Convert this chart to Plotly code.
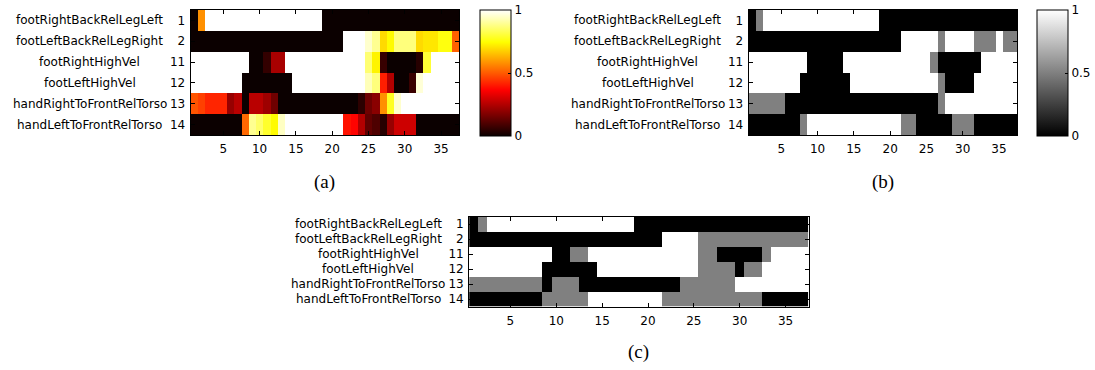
import plotly.graph_objects as go

# Feature rows (label names and their indices) and the 37 time columns
feature_names = [
    "footRightBackRelLegLeft",
    "footLeftBackRelLegRight",
    "footRightHighVel",
    "footLeftHighVel",
    "handRightToFrontRelTorso",
    "handLeftToFrontRelTorso",
]
feature_ids = ["1", "2", "11", "12", "13", "14"]
columns = list(range(1, 38))
x_tick_values = [5, 10, 15, 20, 25, 30, 35]
colorbar_ticks = [0, 0.5, 1]
colorbar_labels = ["0", "0.5", "1"]

# (a) continuous activation values
act_r1 = [0, 0.58, 1, 1, 1, 1, 1, 1, 1, 1, 1, 1, 1, 1, 1, 1, 1, 1, 0, 0,
          0, 0, 0, 0, 0, 0, 0, 0, 0, 0, 0, 0, 0, 0, 0, 0, 0]
act_r2 = [0, 0, 0, 0, 0, 0, 0, 0, 0, 0, 0, 0, 0, 0, 0, 0, 0, 0, 0, 0,
          0, 1, 1, 1, 0.95, 0.89, 0.69, 0.74, 0.87, 0.87, 0.87, 0.69, 0.71, 0.71, 0.76, 0.76, 0.51]
act_r3 = [1, 1, 1, 1, 1, 1, 1, 1, 0, 0, 0.06, 0.235, 0.235, 1, 1, 1, 1, 1, 1, 1,
          1, 1, 1, 1, 0.86, 0.73, 0.066, 0, 0, 0, 0, 0.04, 0.80, 1, 1, 1, 1]
act_r4 = [1, 1, 1, 1, 1, 1, 1, 0, 0, 0, 0, 0, 0, 0, 1, 1, 1, 1, 1, 1,
          1, 1, 1, 1, 0.93, 0.87, 0.41, 0.25, 0, 0, 0.07, 0.96, 1, 1, 1, 1, 1]
act_r5 = [0.49, 0.46, 0.42, 0.42, 0.42, 0.21, 0.26, 0, 0.26, 0.26, 0.22, 0.15, 0, 0, 0, 0, 0, 0, 0, 0,
          0, 0, 0, 0.05, 0.15, 0.19, 0.58, 0.78, 0.95, 1, 1, 1, 1, 1, 1, 1, 1]
act_r6 = [0, 0, 0, 0, 0, 0, 0, 0.52, 0.89, 0.85, 0.79, 0.74, 0.94, 1, 1, 1, 1, 1, 1, 1,
          1, 0.39, 0.37, 0.25, 0.13, 0.10, 0.04, 0.21, 0.29, 0.29, 0.29, 0, 0, 0, 0, 0, 0]

# (b) three-level quantised values
q_r1 = [0, 0.5, 1, 1, 1, 1, 1, 1, 1, 1, 1, 1, 1, 1, 1, 1, 1, 1, 0, 0,
        0, 0, 0, 0, 0, 0, 0, 0, 0, 0, 0, 0, 0, 0, 0, 0, 0]
q_r2 = [0, 0, 0, 0, 0, 0, 0, 0, 0, 0, 0, 0, 0, 0, 0, 0, 0, 0, 0, 0,
        0, 1, 1, 1, 1, 1, 0.5, 1, 1, 1, 1, 0.5, 0.5, 0.5, 1, 0.5, 0.5]
q_r3 = [1, 1, 1, 1, 1, 1, 1, 1, 0, 0, 0, 0, 0, 1, 1, 1, 1, 1, 1, 1,
        1, 1, 1, 1, 1, 0.5, 0, 0, 0, 0, 0, 0, 1, 1, 1, 1, 1]
q_r4 = [1, 1, 1, 1, 1, 1, 1, 0, 0, 0, 0, 0, 0, 0, 1, 1, 1, 1, 1, 1,
        1, 1, 1, 1, 1, 1, 0.5, 0, 0, 0, 0, 1, 1, 1, 1, 1, 1]
q_r5 = [0.5, 0.5, 0.5, 0.5, 0.5, 0, 0, 0, 0, 0, 0, 0, 0, 0, 0, 0, 0, 0, 0, 0,
        0, 0, 0, 0, 0, 0, 0.5, 1, 1, 1, 1, 1, 1, 1, 1, 1, 1]
q_r6 = [0, 0, 0, 0, 0, 0, 0, 0.5, 1, 1, 1, 1, 1, 1, 1, 1, 1, 1, 1, 1,
        1, 0.5, 0.5, 0, 0, 0, 0, 0, 0.5, 0.5, 0.5, 0, 0, 0, 0, 0, 0]

# (c) alternative three-level assignment
c_r1 = [0, 0.5, 1, 1, 1, 1, 1, 1, 1, 1, 1, 1, 1, 1, 1, 1, 1, 1, 0, 0,
        0, 0, 0, 0, 0, 0, 0, 0, 0, 0, 0, 0, 0, 0, 0, 0, 0]
c_r2 = [0, 0, 0, 0, 0, 0, 0, 0, 0, 0, 0, 0, 0, 0, 0, 0, 0, 0, 0, 0,
        0, 1, 1, 1, 1, 0.5, 0.5, 0.5, 0.5, 0.5, 0.5, 0.5, 0.5, 0.5, 0.5, 0.5, 0.5]
c_r3 = [1, 1, 1, 1, 1, 1, 1, 1, 1, 0, 0, 0.5, 0.5, 1, 1, 1, 1, 1, 1, 1,
        1, 1, 1, 1, 1, 0.5, 0.5, 0, 0, 0, 0, 0, 0.5, 1, 1, 1, 1]
c_r4 = [1, 1, 1, 1, 1, 1, 1, 1, 0, 0, 0, 0, 0, 0, 1, 1, 1, 1, 1, 1,
        1, 1, 1, 1, 1, 0.5, 0.5, 0.5, 0.5, 0, 0.5, 0.5, 1, 1, 1, 1, 1]
c_r5 = [0.5, 0.5, 0.5, 0.5, 0.5, 0.5, 0.5, 0.5, 0, 0.5, 0.5, 0.5, 0, 0, 0, 0, 0, 0, 0, 0,
        0, 0, 0, 0.5, 0.5, 0.5, 0.5, 0.5, 0.5, 1, 1, 1, 1, 1, 1, 1, 1]
c_r6 = [0, 0, 0, 0, 0, 0, 0, 0, 0.5, 0.5, 0.5, 0.5, 0.5, 1, 1, 1, 1, 1, 1, 1,
        1, 0.5, 0.5, 0.5, 0.5, 0.5, 0.5, 0.5, 0.5, 0.5, 0.5, 0.5, 0, 0, 0, 0, 0]

W, H = 1095, 370
FONT = "DejaVu Sans"
FS = 12


def fx(px):
    return px / W


def fy(py):
    return 1 - py / H


# MATLAB-style "hot" and "gray" colour maps
hot = [[0.0, "rgb(11,0,0)"], [0.365, "rgb(255,0,0)"],
       [0.746, "rgb(255,255,0)"], [1.0, "rgb(255,255,255)"]]
gray = [[0.0, "rgb(0,0,0)"], [1.0, "rgb(255,255,255)"]]

rows_y = list(range(len(feature_ids)))

# panel geometry in pixels: (left, right, top, bottom)
panels = {
    "a": (191, 460, 10, 135),
    "b": (750, 1019, 10, 135),
    "c": (470, 810, 216.5, 306.5),
}

fig = go.Figure()


def colorbar_for(left, top, bottom):
    return dict(
        x=fx(left), xanchor="left", y=fy(top), yanchor="top",
        len=(bottom - top) / H, lenmode="fraction",
        thickness=31, thicknessmode="pixels",
        outlinewidth=1, outlinecolor="black",
        tickvals=colorbar_ticks, ticktext=colorbar_labels,
        ticks="inside", ticklen=3, tickcolor="black",
        tickfont=dict(family=FONT, size=FS, color="black"),
        xpad=0, ypad=0,
    )


fig.add_trace(go.Heatmap(
    z=[act_r1, act_r2, act_r3, act_r4, act_r5, act_r6], x=columns, y=rows_y,
    zmin=0, zmax=1, colorscale=hot, xaxis="x", yaxis="y",
    colorbar=colorbar_for(481, 10, 136), hoverinfo="skip",
))
fig.add_trace(go.Heatmap(
    z=[q_r1, q_r2, q_r3, q_r4, q_r5, q_r6], x=columns, y=rows_y,
    zmin=0, zmax=1, colorscale=gray, xaxis="x2", yaxis="y2",
    colorbar=colorbar_for(1039, 10, 136), hoverinfo="skip",
))
fig.add_trace(go.Heatmap(
    z=[c_r1, c_r2, c_r3, c_r4, c_r5, c_r6], x=columns, y=rows_y,
    zmin=0, zmax=1, colorscale=gray, xaxis="x3", yaxis="y3",
    showscale=False, hoverinfo="skip",
))

axis_common = dict(
    showline=True, linecolor="black", linewidth=1, mirror="ticks",
    ticks="inside", ticklen=4, tickcolor="black", tickwidth=1,
    showgrid=False, zeroline=False,
    tickfont=dict(family=FONT, size=FS, color="black"),
)

layout = dict(
    width=W, height=H, margin=dict(l=0, r=0, t=0, b=0),
    paper_bgcolor="white", plot_bgcolor="white", showlegend=False,
)

annotations = []
for key, xa, ya in (("a", "xaxis", "yaxis"), ("b", "xaxis2", "yaxis2"), ("c", "xaxis3", "yaxis3")):
    left, right, top, bottom = panels[key]
    suffix = xa[5:]
    layout[xa] = dict(
        domain=[fx(left), fx(right)], range=[0.5, 37.5],
        tickvals=x_tick_values, anchor="y" + suffix,
        ticklabelstandoff=3, **axis_common,
    )
    layout[ya] = dict(
        domain=[fy(bottom), fy(top)], range=[5.5, -0.5],
        tickvals=rows_y, ticktext=feature_ids, anchor="x" + suffix,
        ticklabelstandoff=2, **axis_common,
    )
    for r, name in zip(rows_y, feature_names):
        annotations.append(dict(
            text=name, x=fx(left - 101), xref="paper", xanchor="center",
            y=r, yref="y" + suffix, yanchor="middle", showarrow=False,
            font=dict(family=FONT, size=FS, color="black"),
        ))

# sub-figure captions, centred below each heatmap
for cap, key, cy in (("(a)", "a", 182), ("(b)", "b", 182), ("(c)", "c", 352)):
    left, right, _, _ = panels[key]
    annotations.append(dict(
        text=cap, x=fx((left + right) / 2), y=fy(cy), xref="paper", yref="paper",
        xanchor="center", yanchor="middle", showarrow=False,
        font=dict(family="Liberation Serif", size=19, color="black"),
    ))

layout["annotations"] = annotations
fig.update_layout(**layout)
fig.write_html("out.html")
